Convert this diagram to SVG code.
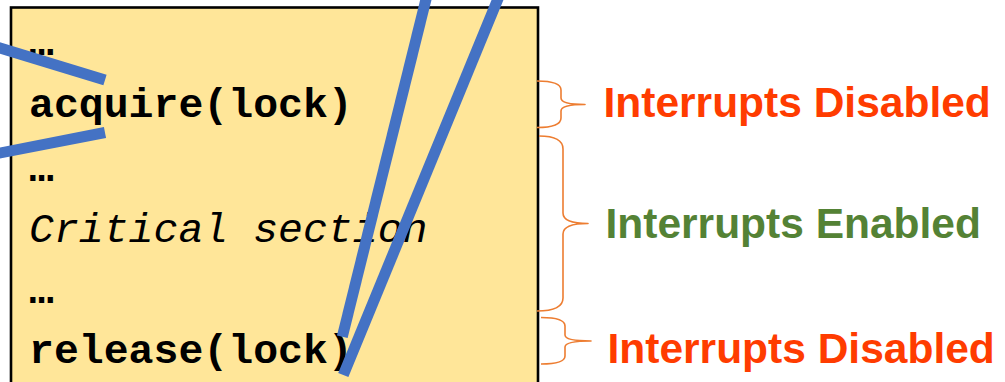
<svg xmlns="http://www.w3.org/2000/svg" width="1005" height="382" viewBox="0 0 1005 382">
  <style>
    .code { font-family: "Liberation Mono", "Courier New", monospace; font-size: 41.5px; fill: #000; }
    .b { font-weight: bold; }
    .it { font-style: italic; }
    .lbl { font-family: "Liberation Sans", Arial, sans-serif; font-size: 42.5px; font-weight: bold; }
    .red { fill: #FF3C00; }
    .green { fill: #548235; }
    .brace { fill: none; stroke: #ED7D31; stroke-width: 1.6; stroke-linejoin: round; }
    .slash { stroke: #4472C4; stroke-width: 11; stroke-linecap: butt; fill: none; }
  </style>
  <rect width="1005" height="382" fill="#fff"/>
  <g id="code-box">
    <rect x="11" y="7.5" width="527" height="400" fill="#FFE699" stroke="#000" stroke-width="2.6"/>
    <text class="code b" x="29" y="54.5">…</text>
    <text class="code b" x="29" y="117">acquire(lock)</text>
    <text class="code b" x="29" y="181">…</text>
    <text class="code it" x="29" y="242">Critical section</text>
    <text class="code b" x="29" y="303">…</text>
    <text class="code b" x="29" y="363">release(lock)</text>
  </g>
  <g id="brace-disabled-1">
    <path class="brace" d="M537,81 Q561,81 561,90 L561,98 Q561,104.5 585,104.5 Q561,104.5 561,111 L561,118 Q561,127.5 537,127.5"/>
    <text class="lbl red" x="603.5" y="116.5">Interrupts Disabled</text>
  </g>
  <g id="brace-enabled">
    <path class="brace" d="M539,136 Q563,136 563,149 L563,213 Q563,223.5 588,223.5 Q563,223.5 563,234 L563,298 Q563,311 537,311"/>
    <text class="lbl green" x="605.5" y="237.5">Interrupts Enabled</text>
  </g>
  <g id="brace-disabled-2">
    <path class="brace" d="M541,317.5 Q565,317.5 565,326 L565,335 Q565,341 591,341 Q565,341 565,347 L565,356 Q565,364 541,364"/>
    <text class="lbl red" x="607.5" y="363">Interrupts Disabled</text>
  </g>
  <g id="connectors">
    <line class="slash" x1="-20" y1="41.9" x2="105" y2="80"/>
    <line class="slash" x1="-20" y1="156.9" x2="105" y2="132.5"/>
    <line class="slash" x1="428.3" y1="-10" x2="342.3" y2="336.7"/>
    <line class="slash" x1="501.6" y1="-10" x2="343.3" y2="375"/>
  </g>
</svg>
